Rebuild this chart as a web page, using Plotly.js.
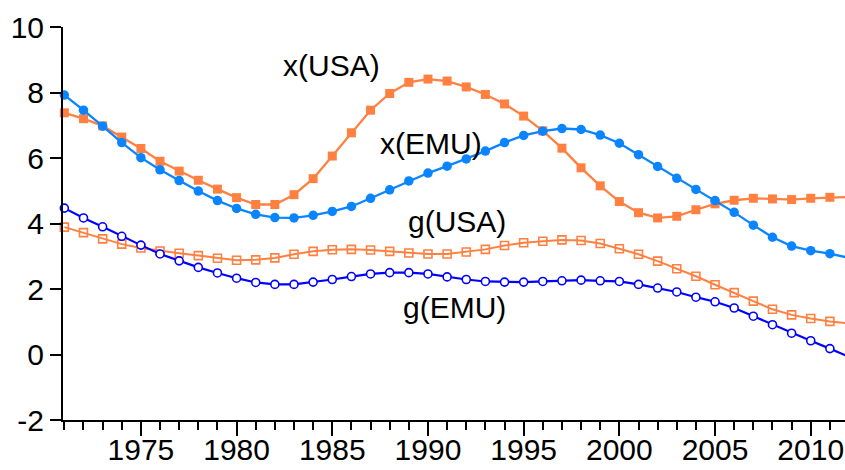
<!DOCTYPE html>
<html>
<head>
<meta charset="utf-8">
<script src="https://cdn.plot.ly/plotly-3.0.1.min.js"></script>
<style>html,body{margin:0;padding:0;overflow:hidden;background:#fff;}</style>
</head>
<body>
<div id="chart" style="width:845px;height:470px;"></div>
<script>
const years = [1971,1972,1973,1974,1975,1976,1977,1978,1979,1980,1981,1982,1983,1984,1985,1986,1987,1988,1989,1990,1991,1992,1993,1994,1995,1996,1997,1998,1999,2000,2001,2002,2003,2004,2005,2006,2007,2008,2009,2010,2011,2012];

const xUSA = [7.38,7.20,6.98,6.64,6.29,5.90,5.60,5.32,5.05,4.79,4.58,4.58,4.88,5.37,6.06,6.77,7.46,7.97,8.31,8.41,8.35,8.17,7.94,7.65,7.28,6.83,6.30,5.70,5.15,4.67,4.33,4.17,4.22,4.42,4.60,4.71,4.77,4.75,4.73,4.77,4.80,4.81];

const xEMU = [7.92,7.46,6.97,6.47,6.01,5.64,5.31,4.99,4.70,4.46,4.28,4.18,4.17,4.25,4.37,4.52,4.77,5.03,5.30,5.54,5.75,5.97,6.21,6.47,6.69,6.82,6.90,6.87,6.70,6.45,6.10,5.74,5.38,5.04,4.70,4.34,3.95,3.58,3.31,3.17,3.08,2.95];

const gUSA = [3.89,3.72,3.53,3.37,3.25,3.16,3.09,3.02,2.94,2.88,2.89,2.95,3.06,3.15,3.20,3.21,3.19,3.15,3.10,3.07,3.07,3.13,3.21,3.33,3.41,3.46,3.50,3.48,3.39,3.23,3.06,2.85,2.62,2.39,2.13,1.89,1.63,1.38,1.21,1.10,1.01,0.95];

const gEMU = [4.47,4.17,3.90,3.61,3.34,3.07,2.86,2.66,2.49,2.33,2.20,2.14,2.14,2.21,2.29,2.38,2.46,2.50,2.50,2.46,2.37,2.29,2.23,2.21,2.21,2.23,2.25,2.27,2.25,2.23,2.14,2.03,1.91,1.75,1.61,1.42,1.17,0.91,0.65,0.42,0.18,-0.07];

const seriesLabels = ["x(USA)", "x(EMU)", "g(USA)", "g(EMU)"];
const labelX = [1984.96, 1990.16, 1991.54, 1991.4];
const labelY = [8.82, 6.43, 4.05, 1.44];

const yTickVals = [-2, 0, 2, 4, 6, 8, 10];
const yTickText = ["-2", "0", "2", "4", "6", "8", "10"];
const xTickVals = [1975, 1980, 1985, 1990, 1995, 2000, 2005, 2010];
const xTickText = ["1975", "1980", "1985", "1990", "1995", "2000", "2005", "2010"];

const orange = "#FF8040";
const lightBlue = "#0A84FF";
const darkBlue = "#0000FF";

const traces = [
  {x: years, y: gUSA, name: seriesLabels[2], mode: "lines+markers", cliponaxis: false,
   line: {color: orange, width: 2},
   marker: {symbol: "square-open", size: 8, color: orange, line: {width: 1.6, color: orange}}},
  {x: years, y: gEMU, name: seriesLabels[3], mode: "lines+markers", cliponaxis: false,
   line: {color: darkBlue, width: 2.2},
   marker: {symbol: "circle", size: 8, color: "#ffffff", line: {width: 1.6, color: darkBlue}}},
  {x: years, y: xUSA, name: seriesLabels[0], mode: "lines+markers", cliponaxis: false,
   line: {color: orange, width: 2.3},
   marker: {symbol: "square", size: 9, color: orange}},
  {x: years, y: xEMU, name: seriesLabels[1], mode: "lines+markers", cliponaxis: false,
   line: {color: lightBlue, width: 2.3},
   marker: {symbol: "circle", size: 9.5, color: lightBlue}}
];

const font = {family: "'Liberation Sans', Arial, Helvetica, sans-serif", size: 30, color: "#000"};

const annotations = seriesLabels.map((t, i) => ({
  x: labelX[i], y: labelY[i], xref: "x", yref: "y", text: t, showarrow: false,
  xanchor: "center", yanchor: "middle", font: font
}));

const layout = {
  width: 845, height: 470,
  margin: {l: 63, r: 0, t: 27, b: 50, pad: 0},
  paper_bgcolor: "#fff", plot_bgcolor: "#fff",
  showlegend: false,
  font: font,
  xaxis: {
    range: [1970.93, 2011.79], showgrid: false, zeroline: false,
    showline: true, linecolor: "#000", linewidth: 2,
    ticks: "outside", tickmode: "array", tickvals: xTickVals, ticktext: xTickText,
    ticklen: 14, tickwidth: 2, tickcolor: "#000",
    ticklabelstandoff: -12,
    minor: {ticks: "outside", tickmode: "linear", tick0: 1970, dtick: 1, ticklen: 8, tickwidth: 2, tickcolor: "#000", showgrid: false},
    tickfont: font
  },
  yaxis: {
    range: [-2, 10], showgrid: false, zeroline: false,
    showline: true, linecolor: "#000", linewidth: 2,
    ticks: "outside", tickmode: "array", tickvals: yTickVals, ticktext: yTickText,
    ticklen: 11, tickwidth: 2, tickcolor: "#000",
    ticklabelstandoff: 0,
    tickfont: font
  },
  annotations: annotations
};

Plotly.newPlot("chart", traces, layout, {staticPlot: true, displayModeBar: false});
</script>
</body>
</html>
